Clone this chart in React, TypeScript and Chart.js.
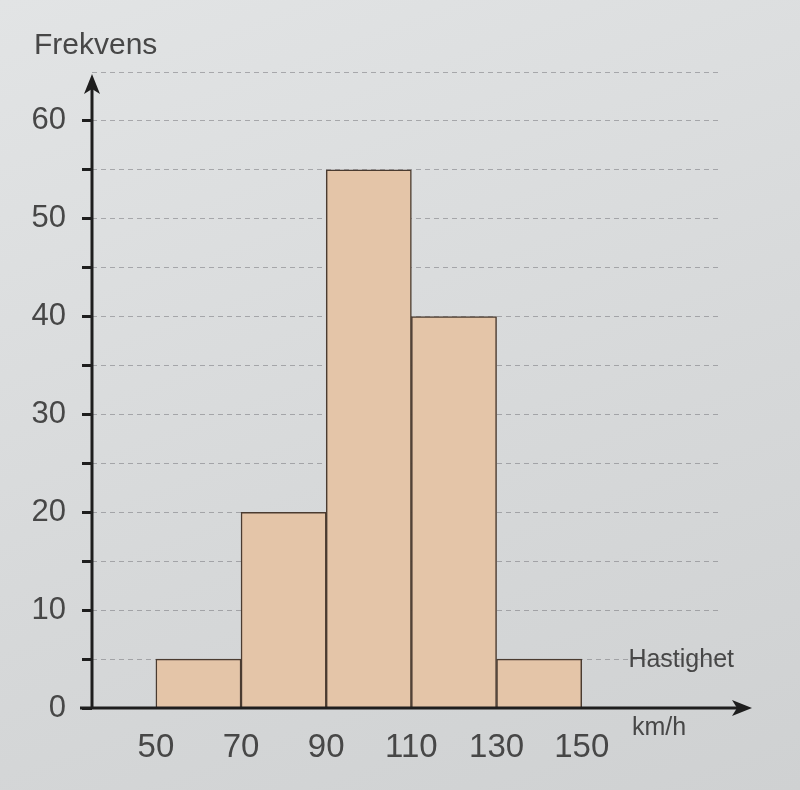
import React, { useEffect, useRef } from "react";
import { Chart, registerables } from "chart.js";

Chart.register(...registerables);

const binStarts = [50, 70, 90, 110, 130];
const binWidth = 20;
const frequencies = [5, 20, 55, 40, 5];
const xTickValues = [50, 70, 90, 110, 130, 150];
const yTickValues = [0, 5, 10, 15, 20, 25, 30, 35, 40, 45, 50, 55, 60, 65];
const yLabelledTicks = [0, 10, 20, 30, 40, 50, 60];
const yAxisTitle = "Frekvens";
const xAxisTitle = "Hastighet";
const xUnit = "km/h";

const FONT = "'Liberation Sans', 'DejaVu Sans', Arial, sans-serif";
const TEXT = "#474747";

const axesPlugin = {
  id: "arrowAxes",
  afterDraw(chart: any) {
    const { ctx, chartArea } = chart;
    const { left, right, top, bottom } = chartArea;
    ctx.save();
    ctx.strokeStyle = "#1e1e1e";
    ctx.fillStyle = "#1e1e1e";
    ctx.lineWidth = 3;
    // x axis
    const xEnd = right + 34;
    ctx.beginPath();
    ctx.moveTo(left - 12, bottom);
    ctx.lineTo(xEnd - 12, bottom);
    ctx.stroke();
    ctx.beginPath();
    ctx.moveTo(xEnd, bottom);
    ctx.lineTo(xEnd - 20, bottom - 8);
    ctx.lineTo(xEnd - 15, bottom);
    ctx.lineTo(xEnd - 20, bottom + 8);
    ctx.closePath();
    ctx.fill();
    // y axis
    const yEnd = top + 2;
    ctx.beginPath();
    ctx.moveTo(left, bottom + 1);
    ctx.lineTo(left, yEnd + 12);
    ctx.stroke();
    ctx.beginPath();
    ctx.moveTo(left, yEnd);
    ctx.lineTo(left - 8, yEnd + 20);
    ctx.lineTo(left, yEnd + 15);
    ctx.lineTo(left + 8, yEnd + 20);
    ctx.closePath();
    ctx.fill();
    // titles
    ctx.fillStyle = TEXT;
    ctx.textBaseline = "middle";
    ctx.textAlign = "left";
    ctx.font = `30px ${FONT}`;
    ctx.fillText(yAxisTitle, left - 58, top - 26);
    ctx.textAlign = "right";
    ctx.font = `25px ${FONT}`;
    ctx.fillText(xAxisTitle, right + 16, bottom - 48);
    ctx.textAlign = "left";
    ctx.font = `25px ${FONT}`;
    ctx.fillText(xUnit, right - 86, bottom + 20);
    ctx.restore();
  },
};

export default function App() {
  const ref = useRef<HTMLCanvasElement | null>(null);

  useEffect(() => {
    if (!ref.current) return;
    const data = binStarts.map((s, i) => ({ x: s + binWidth / 2, y: frequencies[i] }));
    const chart = new Chart(ref.current, {
      type: "bar",
      data: {
        datasets: [
          {
            data: data as any,
            backgroundColor: "#e4c5a8",
            borderColor: "#4a3b30",
            borderWidth: 1.5,
            barPercentage: 1,
            categoryPercentage: 1,
          },
        ],
      },
      options: {
        animation: false,
        responsive: false,
        maintainAspectRatio: false,
        layout: { padding: { left: 12, right: 82, top: 72, bottom: 0 } },
        plugins: { legend: { display: false }, tooltip: { enabled: false } },
        scales: {
          x: {
            type: "linear",
            min: 35,
            max: 182,
            offset: false,
            afterBuildTicks: (scale: any) => {
              scale.ticks = xTickValues.map((v) => ({ value: v }));
            },
            afterFit: (scale: any) => {
              scale.height = 82;
            },
            grid: { display: false },
            border: { display: false },
            ticks: {
              autoSkip: false,
              maxRotation: 0,
              padding: 12,
              color: TEXT,
              font: { family: FONT, size: 33 },
              callback: (v: any) => String(v),
            },
          },
          y: {
            min: 0,
            max: 65,
            afterBuildTicks: (scale: any) => {
              scale.ticks = yTickValues.map((v) => ({ value: v }));
            },
            afterFit: (scale: any) => {
              scale.width = 80;
            },
            border: { display: false, dash: [5, 4] },
            grid: {
              color: (c: any) =>
                c.tick && c.tick.value === 0 ? "rgba(0,0,0,0)" : "rgba(120,120,125,0.55)",
              lineWidth: 1,
              tickColor: (c: any) =>
                c.tick && c.tick.value === 65 ? "rgba(0,0,0,0)" : "#1e1e1e",
              tickWidth: 3,
              tickLength: 10,
              tickBorderDash: [],
            },
            ticks: {
              autoSkip: false,
              padding: 16,
              color: TEXT,
              font: { family: FONT, size: 31 },
              callback: (v: any) => (yLabelledTicks.includes(Number(v)) ? String(v) : ""),
            },
          },
        },
      },
      plugins: [axesPlugin],
    });
    return () => chart.destroy();
  }, []);

  return (
    <div
      style={{
        position: "fixed",
        left: 0,
        top: 0,
        width: 800,
        height: 790,
        background: "linear-gradient(160deg, #e2e4e5 0%, #d6d8d9 60%, #cfd1d2 100%)",
      }}
    >
      <canvas ref={ref} width={800} height={790} style={{ display: "block" }} />
    </div>
  );
}
